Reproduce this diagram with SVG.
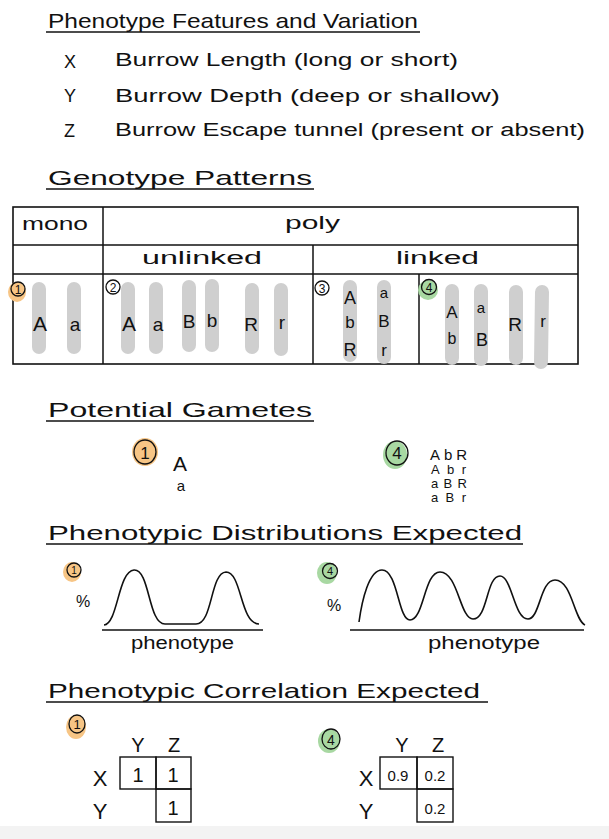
<svg xmlns="http://www.w3.org/2000/svg" width="609" height="839" viewBox="0 0 609 839">
<style>
text{font-family:"Liberation Sans","DejaVu Sans",sans-serif;fill:#111}
.h{font-size:21px}
.t{font-size:18px}
.ln{stroke:#111;stroke-width:1.5;fill:none}
.bar{stroke:#cfcfcf;stroke-width:14;stroke-linecap:round;fill:none}
.c{fill:none;stroke:#111;stroke-width:1.3}
.or{fill:#f7c585}
.gr{fill:#a8d8a2}
.cv{fill:none;stroke:#111;stroke-width:1.6}
.cell{fill:none;stroke:#111;stroke-width:1.4}
</style>
<rect width="609" height="839" fill="#fff"/>

<g id="features">
<text class="h" x="48" y="28" textLength="370" lengthAdjust="spacingAndGlyphs">Phenotype Features and Variation</text>
<line class="ln" x1="46" y1="32" x2="420" y2="32"/>
<text class="t" x="64" y="68">X</text>
<text class="t" x="115" y="66" textLength="343" lengthAdjust="spacingAndGlyphs">Burrow Length  (long or short)</text>
<text class="t" x="64" y="102">Y</text>
<text class="t" x="115" y="102" textLength="385" lengthAdjust="spacingAndGlyphs">Burrow  Depth  (deep or shallow)</text>
<text class="t" x="64" y="137">Z</text>
<text class="t" x="115" y="136" textLength="470" lengthAdjust="spacingAndGlyphs">Burrow Escape tunnel (present or absent)</text>
</g>

<g id="genotype-patterns">
<text class="h" x="48" y="185" textLength="264" lengthAdjust="spacingAndGlyphs">Genotype Patterns</text>
<line class="ln" x1="46" y1="189" x2="314" y2="189"/>
<rect x="13" y="207" width="565" height="157" fill="none" stroke="#111" stroke-width="1.6"/>
<line class="ln" x1="13" y1="245" x2="578" y2="245"/>
<line class="ln" x1="13" y1="274" x2="578" y2="274"/>
<line class="ln" x1="103" y1="207" x2="103" y2="364"/>
<line class="ln" x1="313" y1="245" x2="313" y2="364"/>
<line class="ln" x1="419" y1="274" x2="419" y2="364"/>
<text class="t" x="22" y="230" textLength="66" lengthAdjust="spacingAndGlyphs">mono</text>
<text class="t" x="285" y="229" textLength="55" lengthAdjust="spacingAndGlyphs">poly</text>
<text class="t" x="142" y="264" textLength="120" lengthAdjust="spacingAndGlyphs">unlinked</text>
<text class="t" x="396" y="264" textLength="83" lengthAdjust="spacingAndGlyphs">linked</text>

<g id="cell1">
<line class="bar" x1="39" y1="289" x2="39" y2="347"/>
<line class="bar" x1="74" y1="289" x2="74" y2="347"/>
<ellipse class="or" cx="17" cy="292" rx="9" ry="10"/>
<circle class="c" cx="18" cy="289" r="7"/>
<text x="18" y="294" font-size="12" text-anchor="middle">1</text>
<text x="40" y="331" font-size="21" text-anchor="middle">A</text>
<text x="75" y="331" font-size="19" text-anchor="middle">a</text>
</g>
<g id="cell2">
<line class="bar" x1="128" y1="289" x2="128" y2="347"/>
<line class="bar" x1="156" y1="289" x2="156" y2="347"/>
<line class="bar" x1="189" y1="287" x2="189" y2="345"/>
<line class="bar" x1="212" y1="286" x2="212" y2="345"/>
<line class="bar" x1="252" y1="290" x2="252" y2="347"/>
<line class="bar" x1="281" y1="290" x2="281" y2="349"/>
<circle class="c" cx="113" cy="287" r="7"/>
<text x="113" y="292" font-size="12" text-anchor="middle">2</text>
<text x="129" y="331" font-size="21" text-anchor="middle">A</text>
<text x="158" y="331" font-size="19" text-anchor="middle">a</text>
<text x="189" y="328" font-size="19" text-anchor="middle">B</text>
<text x="212" y="327" font-size="19" text-anchor="middle">b</text>
<text x="251" y="331" font-size="19" text-anchor="middle">R</text>
<text x="282" y="329" font-size="19" text-anchor="middle">r</text>
</g>
<g id="cell3">
<line class="bar" x1="350" y1="287" x2="350" y2="355"/>
<line class="bar" x1="384" y1="287" x2="384" y2="357"/>
<circle class="c" cx="322" cy="288" r="7"/>
<text x="322" y="293" font-size="12" text-anchor="middle">3</text>
<text x="350" y="304" font-size="18" text-anchor="middle">A</text>
<text x="384" y="298" font-size="15" text-anchor="middle">a</text>
<text x="350" y="328" font-size="17" text-anchor="middle">b</text>
<text x="384" y="327" font-size="17" text-anchor="middle">B</text>
<text x="350" y="356" font-size="18" text-anchor="middle">R</text>
<text x="384" y="356" font-size="17" text-anchor="middle">r</text>
</g>
<g id="cell4">
<line class="bar" x1="452" y1="291" x2="452" y2="358"/>
<line class="bar" x1="481" y1="291" x2="481" y2="359"/>
<line class="bar" x1="516" y1="292" x2="516" y2="358"/>
<line class="bar" x1="542" y1="292" x2="541" y2="362"/>
<ellipse class="gr" cx="428" cy="290" rx="10" ry="10"/>
<circle class="c" cx="429" cy="287" r="7.5"/>
<text x="429" y="292" font-size="12" text-anchor="middle">4</text>
<text x="452" y="318" font-size="17" text-anchor="middle">A</text>
<text x="481" y="313" font-size="15" text-anchor="middle">a</text>
<text x="452" y="344" font-size="16" text-anchor="middle">b</text>
<text x="482" y="346" font-size="18" text-anchor="middle">B</text>
<text x="515" y="331" font-size="19" text-anchor="middle">R</text>
<text x="543" y="327" font-size="17" text-anchor="middle">r</text>
</g>
</g>

<g id="gametes">
<text class="h" x="48" y="417" textLength="264" lengthAdjust="spacingAndGlyphs">Potential Gametes</text>
<line class="ln" x1="46" y1="421" x2="314" y2="421"/>
<ellipse class="or" cx="145" cy="452" rx="13" ry="14"/>
<ellipse class="c" cx="145" cy="452" rx="11" ry="12"/>
<text x="145" y="459" font-size="17" text-anchor="middle">1</text>
<text x="180" y="471" font-size="21" text-anchor="middle">A</text>
<text x="181" y="491" font-size="15" text-anchor="middle">a</text>
<ellipse class="gr" cx="395" cy="455" rx="12" ry="14"/>
<ellipse class="c" cx="397" cy="453" rx="11" ry="12"/>
<text x="397" y="459" font-size="17" text-anchor="middle">4</text>
<text x="430" y="460" font-size="15" textLength="37" lengthAdjust="spacing">AbR</text>
<text x="431" y="474" font-size="13" textLength="35" lengthAdjust="spacing">Abr</text>
<text x="431" y="488" font-size="13" textLength="36" lengthAdjust="spacing">aBR</text>
<text x="431" y="502" font-size="13" textLength="35" lengthAdjust="spacing">aBr</text>
</g>

<g id="distributions">
<text class="h" x="48" y="540" textLength="474" lengthAdjust="spacingAndGlyphs">Phenotypic Distributions Expected</text>
<line class="ln" x1="46" y1="544" x2="523" y2="544"/>
<ellipse class="or" cx="72" cy="572" rx="9" ry="10"/>
<circle class="c" cx="74" cy="570" r="7"/>
<text x="74" y="574" font-size="10" text-anchor="middle">1</text>
<text x="76" y="607" font-size="16">%</text>
<path class="cv" d="M104,625 C118,624 118,571 134,570 C150,569 148,624 165,624 L196,624 C213,624 210,573 226,572 C242,572 240,624 259,624"/>
<line class="ln" x1="102" y1="630" x2="263" y2="630"/>
<text class="t" x="131" y="649" textLength="103" lengthAdjust="spacingAndGlyphs">phenotype</text>

<ellipse class="gr" cx="327" cy="573" rx="10" ry="11"/>
<circle class="c" cx="330" cy="571" r="7.5"/>
<text x="330" y="575" font-size="11" text-anchor="middle">4</text>
<text x="327" y="611" font-size="16">%</text>
<path class="cv" d="M359,622 C362,600 369,570 382,570 C398,570 398,620 410,620 C424,620 424,572 440,572 C458,572 460,619 473,619 C488,619 486,576 500,576 C512,576 514,619 528,619 C540,619 540,580 555,580 C572,580 574,620 585,625"/>
<line class="ln" x1="350" y1="630" x2="584" y2="630"/>
<text class="t" x="428" y="649" textLength="112" lengthAdjust="spacingAndGlyphs">phenotype</text>
</g>

<g id="correlation">
<text class="h" x="48" y="698" textLength="432" lengthAdjust="spacingAndGlyphs">Phenotypic Correlation Expected</text>
<line class="ln" x1="46" y1="702" x2="488" y2="702"/>
<ellipse class="or" cx="76" cy="727" rx="10" ry="12"/>
<ellipse class="c" cx="77" cy="724" rx="8" ry="9"/>
<text x="77" y="729" font-size="13" text-anchor="middle">1</text>
<text x="138" y="752" font-size="20" text-anchor="middle">Y</text>
<text x="174" y="752" font-size="20" text-anchor="middle">Z</text>
<text x="100" y="786" font-size="22" text-anchor="middle">X</text>
<text x="100" y="819" font-size="22" text-anchor="middle">Y</text>
<rect class="cell" x="120" y="757" width="36" height="32"/>
<rect class="cell" x="156" y="757" width="35" height="32"/>
<rect class="cell" x="156" y="789" width="35" height="33"/>
<text x="138" y="782" font-size="20" text-anchor="middle">1</text>
<text x="173" y="782" font-size="20" text-anchor="middle">1</text>
<text x="173" y="815" font-size="20" text-anchor="middle">1</text>

<ellipse class="gr" cx="329" cy="741" rx="11" ry="12"/>
<ellipse class="c" cx="331" cy="739" rx="9" ry="10"/>
<text x="331" y="745" font-size="14" text-anchor="middle">4</text>
<text x="402" y="752" font-size="20" text-anchor="middle">Y</text>
<text x="438" y="752" font-size="20" text-anchor="middle">Z</text>
<text x="366" y="786" font-size="22" text-anchor="middle">X</text>
<text x="366" y="819" font-size="22" text-anchor="middle">Y</text>
<rect class="cell" x="380" y="757" width="37" height="32"/>
<rect class="cell" x="417" y="757" width="36" height="32"/>
<rect class="cell" x="417" y="789" width="36" height="33"/>
<text x="398" y="781" font-size="15" text-anchor="middle">0.9</text>
<text x="435" y="781" font-size="15" text-anchor="middle">0.2</text>
<text x="435" y="814" font-size="15" text-anchor="middle">0.2</text>
</g>
<rect x="0" y="826" width="609" height="13" fill="#f3f3f3"/>
</svg>
